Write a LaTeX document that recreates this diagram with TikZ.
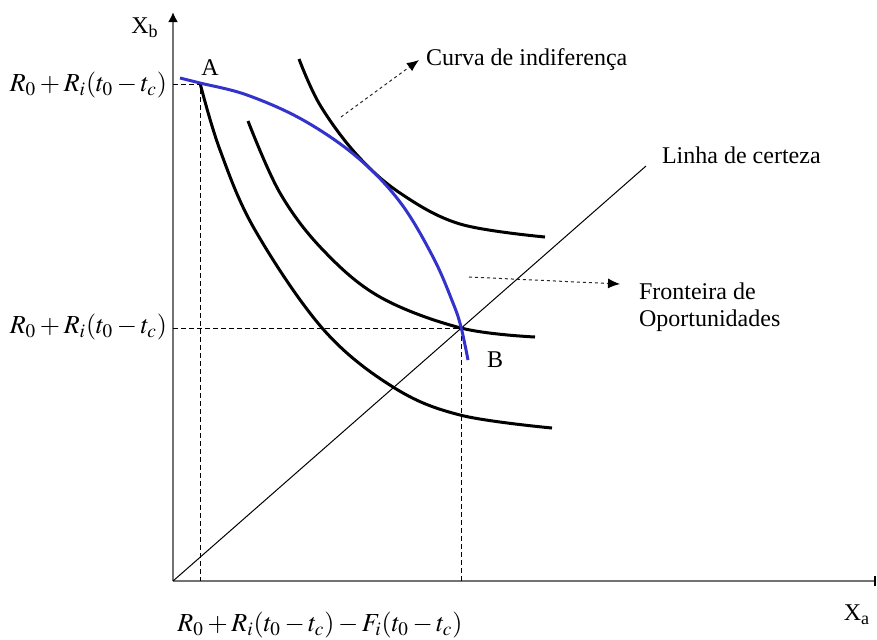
\documentclass[tikz,border=0pt]{standalone}
\usepackage{mathptmx}
\usepackage[no-math]{fontspec}
\setmainfont{Liberation Serif}
\usetikzlibrary{arrows.meta}
\definecolor{FrontClr}{rgb}{0.2,0.2,0.8}
\definecolor{AxisClr}{rgb}{0.45,0.45,0.45}

\begin{document}
\begin{tikzpicture}[x=0.5pt,y=-0.5pt,
  font=\fontsize{12}{13.5}\selectfont,
  axis/.style={AxisClr,line width=1pt},
  curve/.style={black,line width=1.5pt},
  guide/.style={black,line width=0.5pt,dash pattern=on 2.5pt off 1.5pt},
  formula/.style={font=\fontsize{13}{15}\selectfont},
  pointer/.style={black!85,line width=0.5pt,dash pattern=on 1.5pt off 1.5pt,
    -{Latex[black,length=6pt,width=5pt]}}]
\useasboundingbox (0,0) rectangle (877,639);

\coordinate (O) at (173,581);
\coordinate (A) at (200,84);
\coordinate (B) at (461,328);
\coordinate (certEnd) at (646,166);

% axes
\draw[axis,-{Latex[black,length=5pt,width=5pt]}] (O) -- (173,12);
\draw[axis,-{Bar[black,width=5pt]}] (O) -- (876,581);

% guide lines
\draw[guide] (O |- A) -- (A) -- (A |- O);
\draw[guide] (O |- B) -- (B) -- (B |- O);

% linha de certeza
\draw[line width=0.5pt] (O) -- (certEnd);

% indifference curves
\draw[curve] plot[smooth,tension=0.6] coordinates
  {(200,83) (220,150) (255,230) (323,329) (393,387) (460,415) (552,428)};
\draw[curve] plot[smooth,tension=0.6] coordinates
  {(248,121) (280,193) (323,250) (380,297) (461,328) (535,337)};
\draw[curve] plot[smooth,tension=0.6] coordinates
  {(299,59) (320,105) (357,155) (400,193) (460,224) (545,237)};

% fronteira
\draw[FrontClr,line width=1.5pt] plot[smooth,tension=0.6] coordinates
  {(180,78) (200,83) (247,95) (303,120) (357,157) (400,202) (433,257) (453,303) (461,327) (468,360)};

% labels
\node (xb) at (145,28) {X\textsubscript{b}};
\node (xa) at (857,615) {X\textsubscript{a}};
\node (la) at (210,68) {A};
\node (lb) at (495,360) {B};
\node[formula,anchor=east] (ra) at (174,85) {$R_0+R_i(t_0-t_c)$};
\node[formula,anchor=east] (rb) at (174,327) {$R_0+R_i(t_0-t_c)$};
\node[formula] (rc) at (320,625) {$R_0+R_i(t_0-t_c)-F_i(t_0-t_c)$};
\node[anchor=west] (curva) at (419,60) {Curva de indiferença};
\node[anchor=west] (linha) at (655,155) {Linha de certeza};
\node[anchor=north west,align=left] (front) at (632,276) {Fronteira de\\Oportunidades};

% pointers
\coordinate (curvaTail) at (341,117);
\coordinate (frontTail) at (469,277);
\coordinate (frontTip) at (620,284);
\draw[pointer] (curvaTail) -- (curva.west);
\draw[pointer] (frontTail) -- (frontTip);

\end{tikzpicture}
\end{document}
